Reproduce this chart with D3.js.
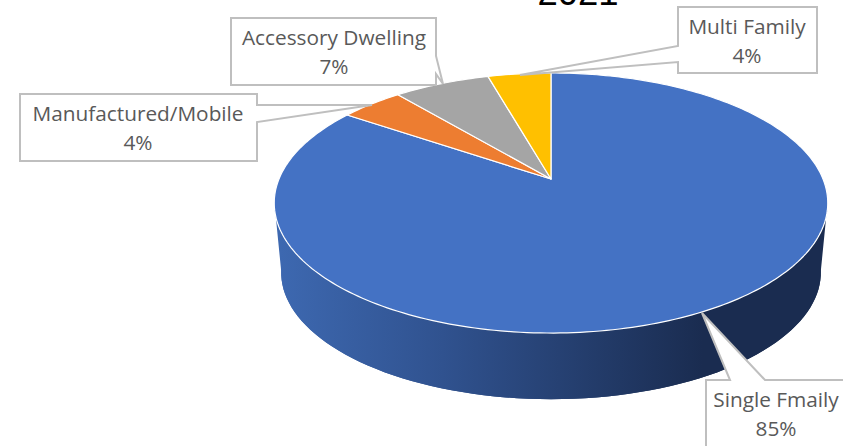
<!DOCTYPE html>
<html>
<head>
<meta charset="utf-8">
<script src="https://cdn.jsdelivr.net/npm/d3@7"></script>
<style>
html, body { margin: 0; padding: 0; background: #fff; overflow: hidden; }
svg { display: block; }
text { font-family: "Open Sans", sans-serif; }
</style>
</head>
<body>
<script>
// data, clockwise from 12 o'clock
var categories = ["Single Fmaily", "Manufactured/Mobile", "Accessory Dwelling", "Multi Family"];
var shares = [84.5, 4.4, 6.7, 4.4];
var colors = ["#4472c4", "#ed7d31", "#a5a5a5", "#ffc000"];
var title = "2021";

var width = 843, height = 446;

// tilted pie: unit circle goes through a perspective transform
var cx = 551, cy = 179, a = 272, b = 125.6, k = -0.1846;

function project(angle, r, scale, yShift) {
    var u = r * Math.sin(angle), v = -r * Math.cos(angle);
    var d = 1 + k * v;
    return [cx + scale * a * u / d, cy + yShift + scale * b * v / d];
}

var svg = d3.select("body").append("svg")
    .attr("width", width)
    .attr("height", height);

var grad = svg.append("defs").append("linearGradient")
    .attr("id", "side")
    .attr("gradientUnits", "userSpaceOnUse")
    .attr("x1", 280).attr("x2", 822).attr("y1", 0).attr("y2", 0);
grad.append("stop").attr("offset", "0").attr("stop-color", "#3d68b0");
grad.append("stop").attr("offset", "0.3").attr("stop-color", "#30528f");
grad.append("stop").attr("offset", "0.78").attr("stop-color", "#1a2c50");
grad.append("stop").attr("offset", "1").attr("stop-color", "#1a2c50");

var line = d3.line();

// outline samples around the whole circle
var circleAngles = d3.range(0, 361, 2).map(function(d) { return d * Math.PI / 180; });

// depth wall: base ellipse + the band up to the top face
var baseScale = 0.975, baseShift = 70;
var wall = svg.append("g").attr("fill", "url(#side)");
wall.append("path")
    .attr("d", line(circleAngles.map(function(t) { return project(t, 1, baseScale, baseShift); })) + "Z");
// band starts at the widest points of the ellipse so the wall edges stay near vertical
var lower = circleAngles.filter(function(t) { return t > Math.PI * 0.55 && t < Math.PI * 1.45; });
wall.append("path")
    .attr("d", line(
        lower.map(function(t) { return project(t, 1, 1, 0); })
            .concat(lower.slice().reverse().map(function(t) { return project(t, 1, baseScale, baseShift); }))
    ) + "Z");

// top face
var pie = d3.pie().sort(null);
var arcs = pie(shares);

function slicePath(d) {
    var steps = Math.max(2, Math.ceil((d.endAngle - d.startAngle) / 0.02));
    var pts = [project(0, 0, 1, 0)];
    for (var i = 0; i <= steps; i++) {
        pts.push(project(d.startAngle + (d.endAngle - d.startAngle) * i / steps, 1, 1, 0));
    }
    return line(pts) + "Z";
}

svg.append("g").selectAll("path")
    .data(arcs)
    .enter().append("path")
    .attr("d", slicePath)
    .attr("fill", function(d, i) { return colors[i]; })
    .attr("stroke", "#fff")
    .attr("stroke-width", 1.2)
    .attr("stroke-linejoin", "round");

// callouts, box plus the wedge that points at the slice
var callouts = [
    { x: 706, y: 380, w: 140, h: 80, textX: 776,
      outline: [[706,380],[730,380],[702,313],[765,380],[856,380],[856,460],[706,460]] },
    { x: 20, y: 94, w: 237, h: 67, textX: 138,
      outline: [[20,94],[257,94],[257,105],[372,105],[257,122],[257,161],[20,161]] },
    { x: 231, y: 18, w: 205, h: 67, textX: 334,
      outline: [[231,18],[436,18],[436,56],[443,84],[436,74],[436,85],[231,85]] },
    { x: 678, y: 7, w: 139, h: 67, textX: 747,
      outline: [[678,7],[817,7],[817,73],[678,73],[678,62],[520,75],[678,46]] }
];

var pct = d3.format(".0f");

var labels = svg.append("g").selectAll("g")
    .data(callouts)
    .enter().append("g");

labels.append("path")
    .attr("d", function(d) { return line(d.outline) + "Z"; })
    .attr("fill", "#fff")
    .attr("stroke", "#bfbfbf")
    .attr("stroke-width", 2);

labels.append("text")
    .attr("x", function(d) { return d.textX; })
    .attr("y", function(d) { return d.y + 27; })
    .attr("text-anchor", "middle")
    .attr("font-size", 20.8)
    .attr("fill", "#595959")
    .text(function(d, i) { return categories[i]; });

labels.append("text")
    .attr("x", function(d) { return d.textX; })
    .attr("y", function(d) { return d.y + 56; })
    .attr("text-anchor", "middle")
    .attr("font-size", 20.8)
    .attr("fill", "#595959")
    .text(function(d, i) { return pct(shares[i]) + "%"; });

// title runs off the top of the picture
svg.append("text")
    .attr("x", 578)
    .attr("y", 5)
    .attr("text-anchor", "middle")
    .style("font-family", "Liberation Sans")
    .attr("font-size", 36.5)
    .attr("fill", "#000")
    .text(title);
</script>
</body>
</html>
